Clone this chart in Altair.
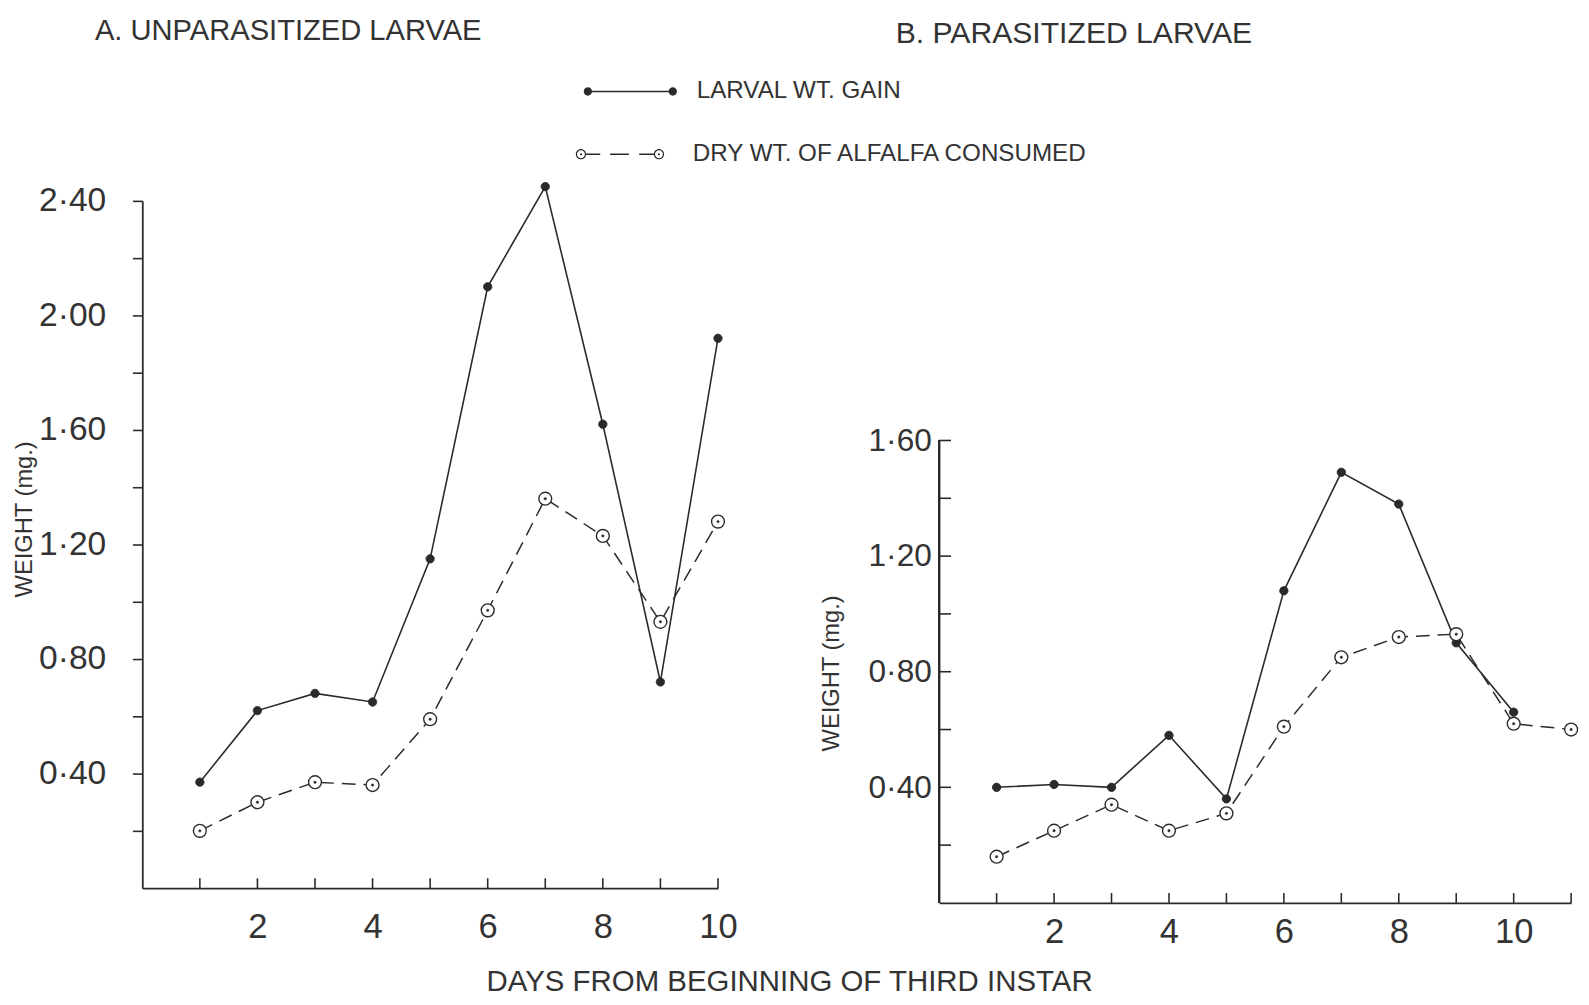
import altair as alt
import pandas as pd

# ---------------- data ----------------
GAIN = "LARVAL WT. GAIN"
CONS = "DRY WT. OF ALFALFA CONSUMED"

days_a = [1, 2, 3, 4, 5, 6, 7, 8, 9, 10]
gain_a = [0.37, 0.62, 0.68, 0.65, 1.15, 2.10, 2.45, 1.62, 0.72, 1.92]
consumed_a = [0.20, 0.30, 0.37, 0.36, 0.59, 0.97, 1.36, 1.23, 0.93, 1.28]

days_b_gain = [1, 2, 3, 4, 5, 6, 7, 8, 9, 10]
gain_b = [0.40, 0.41, 0.40, 0.58, 0.36, 1.08, 1.49, 1.38, 0.90, 0.66]
days_b_cons = [1, 2, 3, 4, 5, 6, 7, 8, 9, 10, 11]
consumed_b = [0.16, 0.25, 0.34, 0.25, 0.31, 0.61, 0.85, 0.92, 0.93, 0.62, 0.60]

x_tick_days_a = [1, 2, 3, 4, 5, 6, 7, 8, 9, 10]
x_tick_days_b = [1, 2, 3, 4, 5, 6, 7, 8, 9, 10, 11]
x_label_days = [2, 4, 6, 8, 10]
y_ticks_a = [0.2, 0.4, 0.6, 0.8, 1.0, 1.2, 1.4, 1.6, 1.8, 2.0, 2.2, 2.4]
y_ticks_b = [0.2, 0.4, 0.6, 0.8, 1.0, 1.2, 1.4, 1.6]

TITLE_A = "A. UNPARASITIZED LARVAE"
TITLE_B = "B. PARASITIZED LARVAE"
Y_TITLE = "WEIGHT (mg.)"
X_TITLE = "DAYS FROM BEGINNING OF THIRD INSTAR"

# ---------------- styling ----------------
FONT = "Liberation Sans"
INK = "#2a2a2a"
TEXT = "#333333"
LABEL_EXPR = "round(datum.value * 10) % 4 == 0 ? replace(format(datum.value, '.2f'), '.', '\u00b7') : ''"


def _circle(cx, r, sweep):
    return (f"M{cx + r},0A{r},{r},0,1,{sweep},{cx - r},0"
            f"A{r},{r},0,1,{sweep},{cx + r},0Z")


def _bar(x0, x1, h):
    return f"M{x0},{-h}H{x1}V{h}H{x0}Z"


# legend glyphs drawn as filled outlines (1 unit = 1 px with symbolSize 4)
PATH_SOLID = _bar(-43, 43, 0.8) + _circle(-43, 4.2, 1) + _circle(43, 4.2, 1)
PATH_DASHED = (_bar(-34.3, -20, 0.7) + _bar(-10, 9, 0.7) + _bar(19.5, 34.3, 0.7)
               + _circle(-39.5, 5.2, 1) + _circle(-39.5, 4.0, 0) + _circle(-39.5, 1.0, 1)
               + _circle(39.5, 5.2, 1) + _circle(39.5, 4.0, 0) + _circle(39.5, 1.0, 1))


def make_legend(path, x, y, offset):
    return alt.Legend(
        title=None, orient="none", legendX=x, legendY=y, padding=0,
        symbolType=path, symbolSize=4, symbolStrokeWidth=0,
        symbolFillColor=INK, symbolOpacity=1,
        labelFont=FONT, labelFontSize=24.5, labelColor=TEXT, labelOffset=offset,
        labelLimit=0,
    )


def panel(days_g, gain, days_c, cons, tick_days, y_ticks, x_max, y_top,
          width, height, inner_y, ylab_size, ylab_pad, ytitle_x, ytitle_y, xlab_pad,
          x_title_params, title, legends):
    dg = pd.DataFrame({"day": days_g, "weight": gain, "series": GAIN})
    dc = pd.DataFrame({"day": days_c, "weight": cons, "series": CONS})
    dt = pd.DataFrame({"day": tick_days})
    dy = pd.DataFrame({"weight": y_ticks})

    xs = alt.Scale(domain=[0, x_max], nice=False, zero=False)
    ys = alt.Scale(domain=[0, y_top], nice=False, zero=False)

    x_axis_kw = dict(values=x_label_days, ticks=False, tickSize=0, grid=False,
                     domainColor=INK, domainWidth=1.8, labelFont=FONT,
                     labelFontSize=35, labelColor=TEXT, labelPadding=xlab_pad,
                     labelBaseline="middle", labelFlush=False, labelOverlap=False)
    x_axis_kw.update(x_title_params)
    x_axis = alt.Axis(**x_axis_kw)
    y_axis = alt.Axis(values=y_ticks, labelExpr=LABEL_EXPR,
                      ticks=not inner_y, tickSize=0 if inner_y else 10, tickWidth=1.6,
                      tickColor=INK, domain=not inner_y, domainColor=INK,
                      domainWidth=1.8, grid=False, labelFont=FONT, labelFontSize=ylab_size,
                      labelColor=TEXT, labelPadding=ylab_pad, labelOverlap=False,
                      title=Y_TITLE, titleFont=FONT, titleFontSize=24,
                      titleFontWeight="normal", titleColor=TEXT, titleAngle=270,
                      titleX=ytitle_x, titleY=ytitle_y, titleAlign="center",
                      titleBaseline="middle")

    X = alt.X("day:Q", scale=xs, axis=x_axis)
    Y = alt.Y("weight:Q", scale=ys, axis=y_axis)
    X0 = alt.XDatum(0, type="quantitative", scale=xs, axis=x_axis)
    Y0 = alt.YDatum(0, type="quantitative", scale=ys, axis=y_axis)

    layers = []
    layers.append(alt.Chart(dt).mark_tick(orient="vertical", size=10, thickness=1.6,
                                          color=INK, opacity=1, yOffset=-5)
                  .encode(x=X, y=Y0))
    if inner_y:
        # y axis line stops at the top tick; ticks point into the plot
        layers.append(alt.Chart(dt).mark_rule(color=INK, strokeWidth=1.8)
                      .encode(x=X0, y=Y0, y2=alt.Y2Datum(y_ticks[-1])))
        layers.append(alt.Chart(dy).mark_tick(orient="horizontal", size=12, thickness=1.6,
                                              color=INK, opacity=1, xOffset=6)
                      .encode(x=X0, y=Y))
    layers.append(alt.Chart(dg).mark_line(color=INK, strokeWidth=1.6).encode(x=X, y=Y))
    layers.append(alt.Chart(dc).mark_line(color=INK, strokeWidth=1.5, strokeDash=[14, 8])
                  .encode(x=X, y=Y))

    enc_g = dict(x=X, y=Y)
    enc_d = dict(x=X, y=Y)
    if legends:
        enc_g["strokeDash"] = alt.StrokeDash("series:N", scale=alt.Scale(range=[[1, 0]]),
                                             legend=legends[0])
        enc_d["strokeDash"] = alt.StrokeDash("series:N", scale=alt.Scale(range=[[1, 0]]),
                                             legend=legends[1])
    layers.append(alt.Chart(dg).mark_point(filled=True, fill=INK, stroke=INK,
                                           strokeWidth=1, size=70, opacity=1)
                  .encode(**enc_g))
    layers.append(alt.Chart(dc).mark_point(filled=False, fill="white", stroke=INK,
                                           strokeWidth=1.4, size=170, opacity=1)
                  .encode(x=X, y=Y))
    layers.append(alt.Chart(dc).mark_point(filled=True, fill=INK, stroke=INK,
                                           strokeWidth=0.5, size=6, opacity=1)
                  .encode(**enc_d))

    ch = alt.layer(*layers).properties(width=width, height=height, title=title)
    if legends:
        ch = (ch.resolve_scale(strokeDash="independent")
              .resolve_legend(strokeDash="independent"))
    return ch


title_a = alt.TitleParams(TITLE_A, anchor="start", frame="group", offset=19.5, dx=-48,
                          baseline="middle", font=FONT, fontSize=29.5,
                          fontWeight="normal", color=TEXT)
title_b = alt.TitleParams(TITLE_B, anchor="start", frame="group", offset=138, dx=-44,
                          baseline="middle", font=FONT, fontSize=30.5,
                          fontWeight="normal", color=TEXT)

legend_gain = make_legend(PATH_SOLID, 482, -123, 55)
legend_cons = make_legend(PATH_DASHED, 471.5, -59.5, 61.5)

chart_a = panel(days_a, gain_a, days_a, consumed_a, x_tick_days_a, y_ticks_a,
                10, 2.4, 583, 696, False, 34, 27, -119, 322, 39,
                dict(title=X_TITLE, titleFont=FONT, titleFontSize=29.8,
                     titleFontWeight="normal", titleColor=TEXT, titleX=655,
                     titleY=95, titleAlign="center", titleBaseline="middle"),
                title_a, [legend_gain, legend_cons])

chart_b = panel(days_b_gain, gain_b, days_b_cons, consumed_b, x_tick_days_b, y_ticks_b,
                11, 2.429, 640, 711, True, 32, 8, -109, 478, 29,
                dict(title=None),
                title_b, None)

chart = (alt.hconcat(chart_a, chart_b, spacing=224, bounds="flush")
         .properties(padding={"left": 5, "top": 2, "right": 0, "bottom": 0},
                     background="white")
         .configure_view(stroke=None))

chart.save("out.html", embed_options={"renderer": "svg", "actions": False})
